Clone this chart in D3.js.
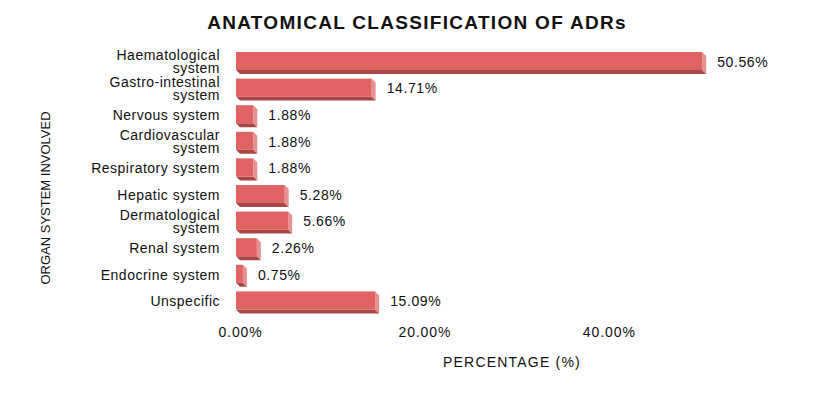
<html>
<script src="https://d3js.org/d3.v7.min.js"></script>
<style>
  body { margin: 0; background: white; }
  text { font-family: "Liberation Sans", Arial, sans-serif; fill: #111; }
</style>
<body>
<div id="chart"></div>
<script>
  const categories = [
    ["Haematological", "system"],
    ["Gastro-intestinal", "system"],
    ["Nervous system"],
    ["Cardiovascular", "system"],
    ["Respiratory system"],
    ["Hepatic system"],
    ["Dermatological", "system"],
    ["Renal system"],
    ["Endocrine system"],
    ["Unspecific"]
  ];
  const values = [50.56, 14.71, 1.88, 1.88, 1.88, 5.28, 5.66, 2.26, 0.75, 15.09];
  const tickValues = [0, 20, 40];

  var width = 837, height = 396;
  var depth = 4, barH = 18;

  var svg = d3.select("#chart").append("svg")
    .attr("width", width).attr("height", height);

  var names = categories.map(d => d.join(" "));

  var xScale = d3.scaleLinear().domain([0, 60]).range([236, 236 + 60 * 9.22]);
  var yScale = d3.scaleBand().domain(names).range([49, 315]).paddingInner(0);

  svg.append("text")
    .attr("x", 417).attr("y", 29)
    .attr("text-anchor", "middle")
    .style("font-size", "19px").style("font-weight", "bold")
    .style("letter-spacing", "1.3px")
    .text("ANATOMICAL CLASSIFICATION OF ADRs");

  var rows = svg.selectAll(".row")
    .data(values)
    .enter()
    .append("g")
    .attr("class", "row")
    .attr("transform", (d, i) => "translate(0," + (yScale(names[i]) + 3) + ")");

  // bottom face
  rows.append("path")
    .attr("d", function (d) {
      var x0 = xScale(0), x1 = xScale(d);
      return `M${x0},${barH} L${x1},${barH} L${x1 + depth},${barH + depth} L${x0 + depth},${barH + depth} Z`;
    })
    .attr("fill", "#a94646");

  // right face
  rows.append("path")
    .attr("d", function (d) {
      var x1 = xScale(d);
      return `M${x1},0 L${x1 + depth},${depth} L${x1 + depth},${barH + depth} L${x1},${barH} Z`;
    })
    .attr("fill", "#e89090");

  // front face
  rows.append("rect")
    .attr("x", xScale(0))
    .attr("y", 0)
    .attr("width", d => xScale(d) - xScale(0))
    .attr("height", barH)
    .attr("fill", "#e06363");

  rows.append("text")
    .attr("x", d => xScale(d) + depth + 11)
    .attr("y", barH / 2 + 1)
    .attr("dy", "0.35em")
    .style("font-size", "14px")
    .style("letter-spacing", "0.6px")
    .text(d => d.toFixed(2) + "%");

  // category labels
  var labels = svg.selectAll(".cat")
    .data(categories)
    .enter()
    .append("text")
    .attr("class", "cat")
    .attr("text-anchor", "end")
    .style("font-size", "14px")
    .style("letter-spacing", "0.5px")
    .attr("transform", (d, i) => "translate(220," + (yScale(names[i]) + 3 + barH / 2 + 1) + ")");

  labels.selectAll("tspan")
    .data(d => d.map((t, j) => ({ t: t, j: j, n: d.length })))
    .enter()
    .append("tspan")
    .attr("x", 0)
    .attr("y", d => (d.j - (d.n - 1) / 2) * 13)
    .attr("dy", "0.35em")
    .text(d => d.t);

  // x axis (labels only)
  var xAxis = svg.append("g")
    .attr("transform", "translate(4,332)")
    .call(d3.axisBottom(xScale).tickValues(tickValues).tickSize(0).tickFormat(d => d.toFixed(2) + "%"));
  xAxis.select(".domain").remove();
  xAxis.selectAll("text")
    .attr("y", 0).attr("dy", "0.35em")
    .style("font-size", "14px")
    .style("letter-spacing", "0.9px")
    .style("font-family", "Liberation Sans, Arial, sans-serif")
    .attr("fill", "#111");

  svg.append("text")
    .attr("x", 512).attr("y", 367)
    .attr("text-anchor", "middle")
    .style("font-size", "14px")
    .style("letter-spacing", "1.2px")
    .text("PERCENTAGE (%)");

  svg.append("text")
    .attr("transform", "translate(50,198) rotate(-90)")
    .attr("text-anchor", "middle")
    .style("font-size", "13px")
    .text("ORGAN SYSTEM INVOLVED");
</script>
</body>
</html>
